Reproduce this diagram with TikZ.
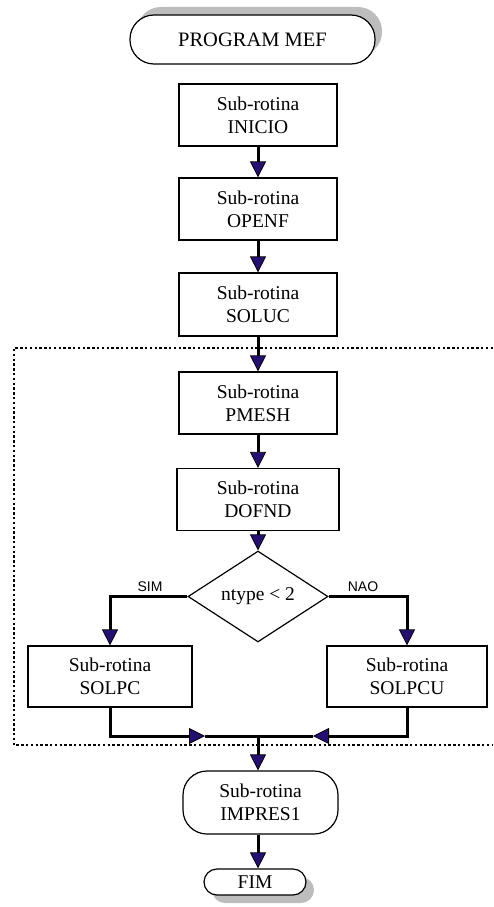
\documentclass[tikz,border=0pt]{standalone}
\usepackage{fontspec}
\setmainfont{Liberation Serif}
\newfontfamily\arialfont{Liberation Sans}
\usetikzlibrary{arrows.meta, positioning, shapes.geometric, shadows}
\definecolor{tipblue}{HTML}{260F73}
\definecolor{shadegray}{HTML}{BDBDBD}

\tikzset{
  box/.style={draw, line width=1.2pt, fill=white, minimum width=158pt, minimum height=62pt,
    inner sep=0pt, align=center, font=\fontsize{19.5}{23}\selectfont},
  term/.style={box, rounded corners=24pt},
  flow/.style={line width=3pt, -{Triangle[width=16pt,length=16pt,line width=0.8pt,fill=tipblue]}},
  plain/.style={line width=3pt},
  label/.style={font=\arialfont\fontsize{14}{16}\selectfont, inner sep=0pt}
}

\begin{document}
\begin{tikzpicture}[x=1pt, y=1pt]
  \useasboundingbox (0,0) rectangle (493,-907);

  % dashed loop area
  \draw[line width=2.4pt, dash pattern=on 2.4pt off 2.4pt] (493,-348) -| (14,-745) -- (493,-745);

  % main column
  \node[term, minimum width=245pt, minimum height=49pt, font=\fontsize{20.5}{24}\selectfont,
        copy shadow={shadow xshift=7pt, shadow yshift=8pt, opacity=1, fill=shadegray, draw=none}]
        (mef) at (252.5,-39.5) {PROGRAM MEF};
  \node[box] (inicio) at (258,-115) {Sub-rotina\\INICIO};
  \node[box] (openf) at (258,-209) {Sub-rotina\\OPENF};
  \node[box, minimum height=63pt] (soluc) at (258,-304.5) {Sub-rotina\\SOLUC};
  \node[box] (pmesh) at (258,-403) {Sub-rotina\\PMESH};
  \node[box, minimum width=162pt] (dofnd) at (258,-499.5) {Sub-rotina\\DOFND};
  \node[draw, diamond, line width=1.2pt, minimum width=140pt, minimum height=59pt, inner sep=0pt,
        font=\fontsize{19.5}{23}\selectfont] (dec) at (258,-596.5) {ntype < 2};

  % branches
  \node[box, minimum width=164pt, minimum height=61pt] (solpc) at (110,-676.5) {Sub-rotina\\SOLPC};
  \node[box, minimum width=160pt, minimum height=61pt] (solpcu) at (407,-676.5) {Sub-rotina\\SOLPCU};

  \node[term, minimum width=155pt, minimum height=63pt] (impres) at (260.5,-802.5) {Sub-rotina\\IMPRES1};
  \node[term, rounded corners=13pt, minimum width=102pt, minimum height=26pt,
        copy shadow={shadow xshift=8pt, shadow yshift=-8pt, opacity=1, fill=shadegray, draw=none}]
        (fim) at (255,-882) {FIM};

  \node[label] (sim) at (150,-587) {SIM};
  \node[label] (nao) at (363,-587) {NAO};

  \coordinate (mL) at (205,-736);
  \coordinate (mR) at (313,-736);
  \coordinate (mC) at (258,-736);

  % connectors
  \draw[flow] (inicio) -- (openf);
  \draw[flow] (openf) -- (soluc);
  \draw[flow] (soluc) -- (pmesh);
  \draw[flow] (pmesh) -- (dofnd);
  \draw[flow] (dofnd) -- (dec);
  \draw[flow] (dec.west) -| (solpc.north);
  \draw[flow] (dec.east) -| (solpcu.north);
  \draw[flow] (solpc.south) |- (mL);
  \draw[flow] (solpcu.south) |- (mR);
  \draw[plain] (mL) -- (mR);
  \draw[flow] (mC) -- (impres.north -| mC);
  \draw[flow] (impres.south -| mC) -- (fim.north -| mC);
\end{tikzpicture}
\end{document}
